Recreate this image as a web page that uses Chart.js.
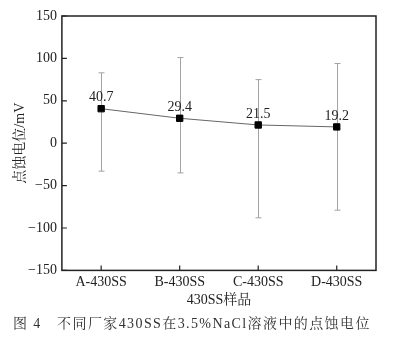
<!DOCTYPE html>
<html>
<head>
<meta charset="utf-8">
<script src="https://cdn.jsdelivr.net/npm/chart.js@4"></script>
<style>
  body { margin: 0; background: #fff; }
  #wrap { width: 398px; height: 338px; }
</style>
</head>
<body>
<div id="wrap"><canvas id="myChart" width="398" height="338"></canvas></div>
<script>
const ctx = document.getElementById('myChart');
const fontFamily = '"Liberation Serif", "Noto Serif CJK SC", "Noto Sans CJK SC", serif';
const captionText = '图 4　不同厂家430SS在3.5%NaCl溶液中的点蚀电位';
const yTitle = '点蚀电位/mV';

// samples and their pitting potentials (mV)
const samples = ['A-430SS', 'B-430SS', 'C-430SS', 'D-430SS'];
const meanValues = [40.7, 29.4, 21.5, 19.2];
const upperValues = [83, 101, 75, 94];
const lowerValues = [-33, -35, -88, -79];
const yTicks = [-150, -100, -50, 0, 50, 100, 150];

// error bars, value labels, frame, inward ticks, y title and figure caption
const errorBars = {
    id: 'errorBars',
    beforeDatasetsDraw(chart) {
        const {ctx, scales: {x, y}} = chart;
        ctx.save();
        ctx.strokeStyle = '#a3a3a3';
        ctx.lineWidth = 1;
        samples.forEach((s, i) => {
            const px = Math.round(x.getPixelForValue(i)) + 0.5;
            const top = y.getPixelForValue(upperValues[i]);
            const bot = y.getPixelForValue(lowerValues[i]);
            ctx.beginPath();
            ctx.moveTo(px, top);
            ctx.lineTo(px, bot);
            ctx.moveTo(px - 3, top);
            ctx.lineTo(px + 3, top);
            ctx.moveTo(px - 3, bot);
            ctx.lineTo(px + 3, bot);
            ctx.stroke();
        });
        ctx.restore();
    },
    afterDatasetsDraw(chart) {
        const {ctx, chartArea: {left, right, top, bottom}, scales: {x, y}} = chart;
        ctx.save();
        ctx.fillStyle = '#222';
        ctx.font = '14px ' + fontFamily;
        ctx.textAlign = 'center';
        ctx.textBaseline = 'bottom';
        meanValues.forEach((v, i) => {
            ctx.fillText(v.toFixed(1), x.getPixelForValue(i), y.getPixelForValue(v) - 4);
        });

        ctx.strokeStyle = '#222';
        ctx.lineWidth = 1.5;
        ctx.strokeRect(left, top, right - left, bottom - top);

        ctx.lineWidth = 1.2;
        ctx.beginPath();
        y.ticks.forEach((t, i) => {
            const py = y.getPixelForTick(i);
            ctx.moveTo(left, py);
            ctx.lineTo(left + 5, py);
        });
        samples.forEach((s, i) => {
            const px = x.getPixelForValue(i);
            ctx.moveTo(px, bottom);
            ctx.lineTo(px, bottom - 5);
        });
        ctx.stroke();
        ctx.restore();
    },
    afterDraw(chart) {
        const {ctx, chartArea: {top, bottom}} = chart;
        ctx.save();
        ctx.fillStyle = '#222';
        ctx.font = '14px ' + fontFamily;
        ctx.textAlign = 'center';
        ctx.textBaseline = 'middle';
        ctx.translate(20, (top + bottom) / 2);
        ctx.rotate(-Math.PI / 2);
        ctx.fillText(yTitle, 0, 0);
        ctx.restore();

        ctx.save();
        ctx.fillStyle = '#333';
        ctx.font = '14px ' + fontFamily;
        ctx.letterSpacing = '1.4px';
        ctx.textAlign = 'left';
        ctx.textBaseline = 'middle';
        ctx.fillText(captionText, 13, 324);
        ctx.restore();
    }
};

new Chart(ctx, {
    type: 'line',
    data: {
        labels: samples,
        datasets: [{
            data: meanValues,
            borderColor: '#666',
            borderWidth: 1,
            pointStyle: 'rect',
            pointRadius: 4.5,
            pointBackgroundColor: '#000',
            pointBorderColor: '#000',
            tension: 0
        }]
    },
    options: {
        responsive: false,
        animation: false,
        layout: {padding: {top: 16, right: 22, left: 23, bottom: 29}},
        scales: {
            x: {
                offset: true,
                grid: {display: false, drawTicks: false},
                border: {display: false},
                ticks: {color: '#222', padding: 4, font: {family: fontFamily, size: 14}},
                title: {
                    display: true,
                    text: '430SS样品',
                    color: '#222',
                    padding: {top: -3, bottom: 0},
                    font: {family: fontFamily, size: 14}
                }
            },
            y: {
                min: -150,
                max: 150,
                afterBuildTicks: axis => { axis.ticks = yTicks.map(v => ({value: v})); },
                grid: {display: false, drawTicks: false},
                border: {display: false},
                ticks: {
                    color: '#222',
                    padding: 5,
                    font: {family: fontFamily, size: 14},
                    callback: v => String(v).replace('-', '\u2212')
                }
            }
        },
        plugins: {
            legend: {display: false},
            tooltip: {enabled: false}
        }
    },
    plugins: [errorBars]
});
</script>
</body>
</html>
